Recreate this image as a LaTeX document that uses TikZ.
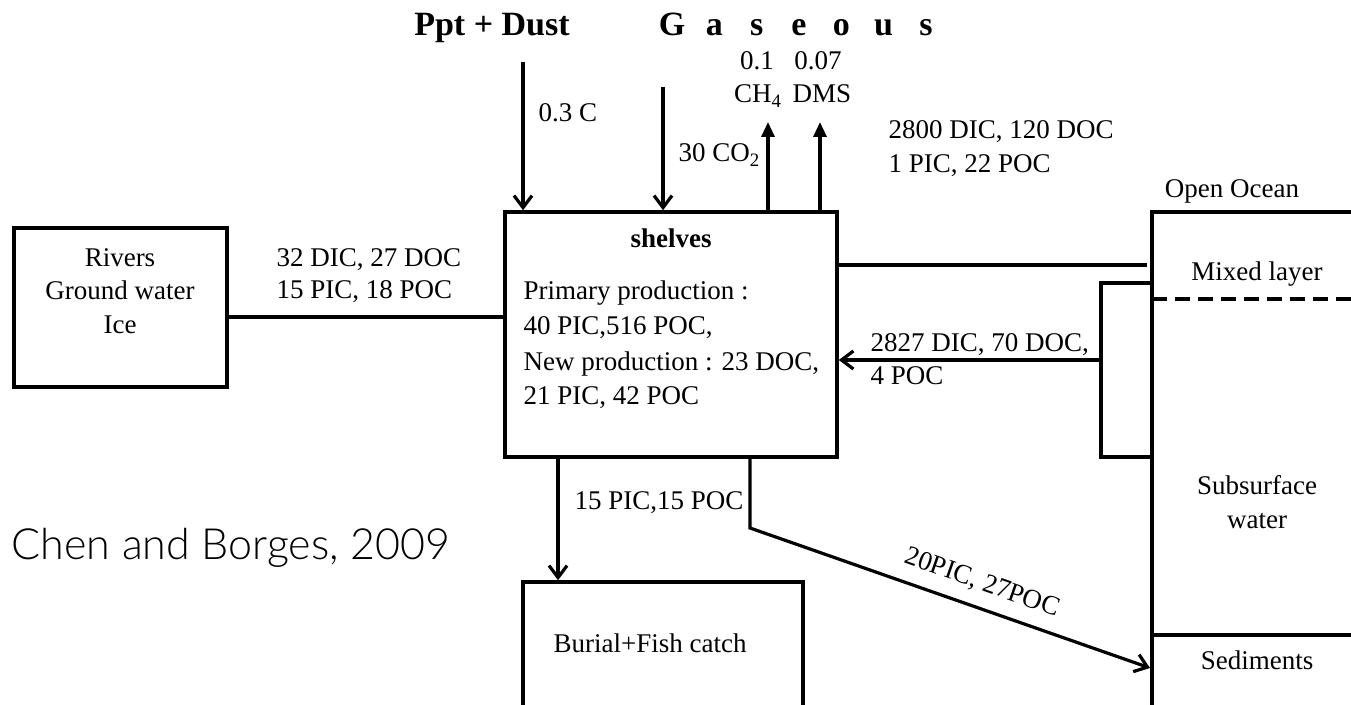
\documentclass[tikz,border=0pt]{standalone}
\usepackage{fontspec}
\setmainfont{Liberation Serif}
\IfFontExistsTF{Lato Light}{\newfontfamily\citefont{Lato Light}}{\newfontfamily\citefont{Lato}}
\usetikzlibrary{arrows.meta}
\begin{document}
\begin{tikzpicture}[x=0.5pt,y=-0.5pt,
  line width=1.6pt,
  txt/.style={font=\fontsize{13.5}{16}\selectfont, inner sep=0pt},
  hd/.style={font=\fontsize{17}{20}\selectfont\bfseries, inner sep=0pt},
  box/.style={draw, line width=1.75pt, inner sep=0pt},
  barb/.style={-{Straight Barb[length=6pt,width=9pt]}},
  tri/.style={-{Triangle[length=7.5pt,width=6.5pt]}},
  lbl/.style={txt, anchor=base west},
  ctr/.style={txt, anchor=base},
]
\useasboundingbox (0,0) rectangle (1351,705);
\clip (0,0) rectangle (1351,705);

% boxes
\node[box, minimum width=166pt, minimum height=122.5pt] (shelves) at (671,334.5) {};
\node[box, minimum width=106.5pt, minimum height=79.5pt] (rivers) at (120.5,307.5) {};
\node[box, minimum width=140pt, minimum height=89pt] (burial) at (663,671) {};

% open ocean
\coordinate (oTL) at (1152,212);
\coordinate (oTR) at (1400,212);
\coordinate (oBL) at (1152,760);
\coordinate (mixL) at (1152,299);
\coordinate (mixR) at (1400,299);
\coordinate (sedL) at (1152,635);
\coordinate (sedR) at (1400,635);
\draw[line width=1.75pt] (oTR) -- (oTL) -- (oBL);
\draw[line width=1.75pt, dash pattern=on 7.5pt off 4pt] (mixL) -- (mixR);
\draw[line width=1.75pt] (sedL) -- (sedR);

% headings
\node[hd, anchor=base] (ppt) at (492,36) {Ppt + Dust};
\node[hd, anchor=base] (gas) at (799,36) {\makebox[21.15pt]{G}\makebox[21.15pt]{a}\makebox[21.15pt]{s}\makebox[21.15pt]{e}\makebox[21.15pt]{o}\makebox[21.15pt]{u}\makebox[21.15pt]{s}};

% inputs from top
\coordinate (pptS) at (523,62);
\coordinate (co2S) at (663,87);
\draw[barb] (pptS) -- (pptS |- shelves.north);
\draw[barb] (co2S) -- (co2S |- shelves.north);
\node[lbl] (l03) at (537,122) {0.3 C};
\node[lbl] (l30) at (677,162) {30 CO\textsubscript{2}};

% gaseous outputs
\coordinate (ch4T) at (768,122);
\coordinate (dmsT) at (820,122);
\draw[tri] (ch4T |- shelves.north) -- (ch4T);
\draw[tri] (dmsT |- shelves.north) -- (dmsT);
\node[ctr] (v01) at (757,70) {0.1};
\node[ctr] (ch4) at (758,103) {CH\textsubscript{4}};
\node[ctr] (v007) at (818,70) {0.07};
\node[ctr] (dms) at (822,103) {DMS};

% exchange with open ocean
\node[lbl] (ex1) at (887,139) {2800 DIC, 120 DOC};
\node[lbl] (ex2) at (887,173) {1 PIC, 22 POC};
\node[ctr] (oo) at (1232,198) {Open Ocean};
\coordinate (mixIn) at (1147,265);
\draw (shelves.east |- mixIn) -- (mixIn);
\coordinate (brT) at (1152,283);
\coordinate (brB) at (1152,457);
\coordinate (brM) at (1101,360);
\draw (brT) -- (brT -| brM) -- (brB -| brM) -- (brB);
\draw[barb] (brM) -- (brM -| shelves.east);
\node[lbl] (up1) at (869,352) {2827 DIC, 70 DOC,};
\node[lbl] (up2) at (869,385) {4 POC};

\node[ctr] (mixed) at (1257,281) {Mixed layer};
\node[ctr] (sub1) at (1257,495) {Subsurface};
\node[ctr] (sub2) at (1257,529) {water};
\node[ctr] (sed) at (1257,670) {Sediments};

% shelves text
\node[txt, anchor=base, font=\fontsize{13.5}{16}\selectfont\bfseries] (sh) at (671,248) {shelves};
\node[lbl] (s1) at (522,300) {Primary production :};
\node[lbl] (s2) at (522,335) {40 PIC,516 POC,};
\node[lbl] (s3) at (522,371) {New production : 23 DOC,};
\node[lbl] (s4) at (522,405) {21 PIC, 42 POC};

% rivers
\node[ctr] (r1) at (120,267) {Rivers};
\node[ctr] (r2) at (120,300) {Ground water};
\node[ctr] (r3) at (120,334) {Ice};
\draw (rivers.east |- 0,317) -- (shelves.west |- 0,317);
\node[lbl] (rl1) at (275,267) {32 DIC, 27 DOC};
\node[lbl] (rl2) at (275,299) {15 PIC, 18 POC};

% burial
\coordinate (burX) at (558,0);
\draw[barb] (burX |- shelves.south) -- (burX |- burial.north);
\node[lbl] (bl) at (573,510) {15 PIC,15 POC};
\node[ctr] (bt) at (650,653) {Burial+Fish catch};

% to sediments
\coordinate (dBend) at (750,528);
\coordinate (dEnd) at (1150,668);
\draw[barb] (dBend |- shelves.south) -- (dBend) -- (dEnd)
  node[txt, sloped, pos=0.56, above=6pt] (dl) {20PIC, 27POC};

% citation
\node[anchor=base west, inner sep=0pt, font=\citefont\fontsize{21.5}{26}\selectfont] (cite) at (10,560) {Chen and Borges, 2009};
\end{tikzpicture}
\end{document}
